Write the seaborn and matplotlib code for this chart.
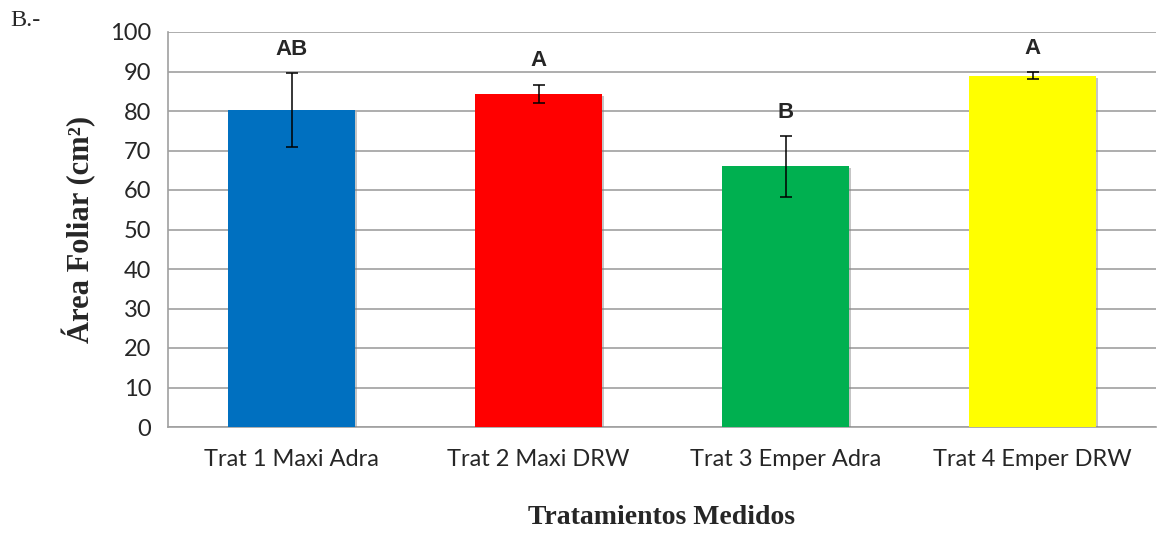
import matplotlib
matplotlib.use("Agg")
import matplotlib.pyplot as plt
import matplotlib.patheffects as pe
import seaborn as sns
import pandas as pd

categories = ["Trat 1 Maxi Adra", "Trat 2 Maxi DRW", "Trat 3 Emper Adra", "Trat 4 Emper DRW"]
values = [80.2, 84.3, 66.0, 88.9]
errors = [9.4, 2.4, 7.7, 0.9]
letters = ["AB", "A", "B", "A"]
colors = ["#0070C0", "#FF0000", "#00B050", "#FFFF00"]
yticks = [0, 10, 20, 30, 40, 50, 60, 70, 80, 90, 100]

sns.set_theme(style="white")
plt.rcParams['font.family'] = ['Lato', 'DejaVu Sans']

df = pd.DataFrame({"cat": categories, "val": values})

fig = plt.figure(figsize=(11.76, 5.34), dpi=100)
ax = fig.add_axes([168/1176, 1 - 427/534, (1156-168)/1176, (427-32)/534])

sns.barplot(data=df, x="cat", y="val", hue="cat", palette=colors, legend=False,
            width=0.515, errorbar=None, ax=ax, saturation=1, zorder=3)
for p in ax.patches:
    p.set_edgecolor("none")
    p.set_path_effects([pe.SimplePatchShadow(offset=(1.5, -1.5), shadow_rgbFace="#808080", alpha=0.45), pe.Normal()])

xs = list(range(len(categories)))
ax.errorbar(xs, values, yerr=errors, fmt="none", ecolor="black", elinewidth=1.1,
            capsize=4.3, capthick=1.1, zorder=4)

for x, v, e, t in zip(xs, values, errors, letters):
    ax.annotate(t, xy=(x, v + e), xytext=(0, 17), textcoords="offset points",
                ha="center", va="center", fontsize=16, fontweight="bold",
                family=["Liberation Sans", "DejaVu Sans"])

ax.set_ylim(0, 100)
ax.set_xlim(-0.5, 3.5)
ax.set_yticks(yticks)
ax.set_yticklabels([str(t) for t in yticks], fontsize=17)
ax.tick_params(axis="x", labelsize=17, length=0, pad=16)
ax.tick_params(axis="y", length=0, pad=12)
ax.yaxis.grid(True, color="#A0A0A0", linewidth=1.2, zorder=0)
ax.set_axisbelow(True)
for s in ["top", "right"]:
    ax.spines[s].set_visible(False)
for s in ["left", "bottom"]:
    ax.spines[s].set_color("#A0A0A0")
    ax.spines[s].set_linewidth(1.2)

ax.set_xlabel("Tratamientos Medidos", fontsize=20, fontweight="bold",
              family=["Liberation Serif", "DejaVu Serif"], labelpad=25)
ax.set_ylabel("Área Foliar (cm²)", fontsize=22, fontweight="bold",
              family=["Liberation Serif", "DejaVu Serif"], labelpad=10)

fig.text(10/1176, 1 - 21/534, "B.-", fontsize=17.5, family=["Liberation Serif", "DejaVu Serif"],
         va="center", ha="left")

fig.savefig("out.png", dpi=100)
